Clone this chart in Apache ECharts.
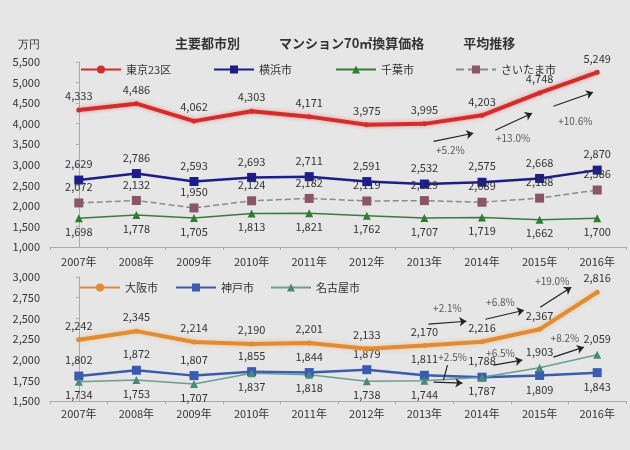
<!DOCTYPE html>
<html>
<head>
<meta charset="utf-8">
<script src="https://cdn.jsdelivr.net/npm/echarts@6/dist/echarts.min.js"></script>
<style>
html, body { margin: 0; padding: 0; background: #e6e6e6; }
#chart { width: 630px; height: 450px; }
</style>
</head>
<body>
<div id="chart"></div>
<script>
// 年
const years = ['2007年', '2008年', '2009年', '2010年', '2011年', '2012年', '2013年', '2014年', '2015年', '2016年'];

// 首都圏 (万円)
const tokyo = [4333, 4486, 4062, 4303, 4171, 3975, 3995, 4203, 4748, 5249];
const yokohama = [2629, 2786, 2593, 2693, 2711, 2591, 2532, 2575, 2668, 2870];
const chiba = [1698, 1778, 1705, 1813, 1821, 1762, 1707, 1719, 1662, 1700];
const saitama = [2072, 2132, 1950, 2124, 2182, 2119, 2129, 2089, 2188, 2386];

// 関西・中部 (万円)
const osaka = [2242, 2345, 2214, 2190, 2201, 2133, 2170, 2216, 2367, 2816];
const kobe = [1802, 1872, 1807, 1855, 1844, 1879, 1811, 1788, 1809, 1843];
const nagoya = [1734, 1753, 1707, 1837, 1818, 1738, 1744, 1787, 1903, 2059];

// 上昇率の注記 [文字, 年index, 値]
const topNotes = [['+5.2%', 6.45, 3353], ['+13.0%', 7.54, 3644], ['+10.6%', 8.62, 4058]];
const topArrows = [[6.16, 3571, 6.85, 3766], [7.23, 3839, 7.87, 4252], [8.24, 4423, 8.93, 4763]];
const bottomNotes = [['+2.1%', 6.40, 2622], ['+6.8%', 7.32, 2695], ['+19.0%', 8.22, 2948],
  ['+8.2%', 8.44, 2260], ['+6.5%', 7.32, 2079], ['+2.5%', 6.49, 2031]];
const bottomArrows = [[6.07, 2429, 6.73, 2465], [7.06, 2489, 7.73, 2598], [8.01, 2634, 8.55, 2876],
  [8.24, 2031, 8.77, 2151], [7.20, 1934, 7.70, 1995], [6.16, 1729, 6.66, 1717]];
const bottomLeader = [[6.40, 1934, 6.33, 1753]];

const FONT = '"Noto Sans CJK JP", "Noto Sans", sans-serif';
const fmt = (v) => Number(v).toLocaleString('en-US');

let myChart = echarts.init(document.getElementById('chart'));

// flip: 2015年以降はラベルの上下を入れ替える
let lineSeries = (name, data, opt) => {
  let pos = (i) => {
    let below = !!opt.below;
    if (opt.flipFrom != null && i >= opt.flipFrom) below = !below;
    return below ? 'bottom' : 'top';
  };
  return {
    name: name,
    type: 'line',
    data: data.map((v, i) => ({ value: v, label: { position: pos(i), distance: pos(i) === 'bottom' ? 4 : 6 } })),
    xAxisIndex: opt.grid,
    yAxisIndex: opt.grid,
    symbol: opt.symbol,
    symbolSize: opt.symbolSize,
    itemStyle: { color: opt.markColor || opt.color },
    lineStyle: Object.assign({ color: opt.color, width: opt.width, type: opt.dash ? 'dashed' : 'solid' }, opt.glow ? { shadowColor: opt.glow, shadowBlur: 4 } : {}),
    label: {
      show: true,
      color: '#333',
      fontSize: 11,
      fontFamily: FONT,
      formatter: (p) => fmt(p.value),
    },
    z: opt.z || 2,
  };
};

let arrowLines = (list, head) => list.map((a) => [
  { coord: [a[0], a[1]], symbol: 'none' },
  { coord: [a[2], a[3]], symbol: head ? 'arrow' : 'none' },
]);

let noteSeries = (grid, notes, arrows, leaders) => ({
  type: 'scatter',
  xAxisIndex: grid + 2,
  yAxisIndex: grid,
  symbolSize: 0,
  silent: true,
  data: notes.map((n) => [n[1], n[2], n[0]]),
  label: {
    show: true,
    position: 'inside',
    color: '#333',
    fontSize: 10,
    fontFamily: FONT,
    formatter: (p) => p.value[2],
  },
  markLine: {
    silent: true,
    symbolSize: 7,
    label: { show: false },
    lineStyle: { color: '#222', width: 1.2, type: 'solid' },
    data: arrowLines(arrows, true).concat(arrowLines(leaders, false)),
  },
  z: 5,
});

let legendAt = (name, left, top) => ({
  data: [name],
  left: left,
  top: top,
  itemWidth: 40,
  itemHeight: 10,
  itemGap: 0,
  textStyle: { fontSize: 11, color: '#333', fontFamily: FONT },
});

let axisY = (grid, min, max, interval) => ({
  type: 'value',
  gridIndex: grid,
  min: min,
  max: max,
  interval: interval,
  splitLine: { show: false },
  axisLine: { show: true, lineStyle: { color: '#aaa' } },
  axisTick: { show: true, length: 3, lineStyle: { color: '#aaa' } },
  axisLabel: { color: '#333', fontSize: 11, fontFamily: FONT, margin: 10, formatter: fmt },
});

let axisX = (grid, margin) => ({
  type: 'category',
  gridIndex: grid,
  data: years,
  boundaryGap: true,
  axisLine: { show: true, lineStyle: { color: '#aaa' } },
  axisTick: { show: true, length: 3, lineStyle: { color: '#aaa' } },
  axisLabel: { color: '#333', fontSize: 11, fontFamily: FONT, margin: margin },
});

let noteAxis = (grid) => ({
  type: 'value',
  gridIndex: grid,
  min: -0.5,
  max: 9.5,
  show: false,
});

myChart.setOption({
  backgroundColor: '#e6e6e6',
  animation: false,
  title: {
    text: '主要都市別　　　マンション70㎡換算価格　　　平均推移',
    left: 170,
    top: 32,
    textStyle: { fontSize: 13, fontWeight: 'bold', color: '#333', fontFamily: FONT },
  },
  graphic: [{
    type: 'text',
    left: 18,
    top: 39,
    style: { text: '万円', fontSize: 11, fill: '#333', font: '11px ' + FONT },
  }],
  legend: [
    legendAt('東京23区', 75, 59),
    legendAt('横浜市', 208, 59),
    legendAt('千葉市', 330, 59),
    legendAt('さいたま市', 450, 59),
    legendAt('大阪市', 74, 277),
    legendAt('神戸市', 170, 277),
    legendAt('名古屋市', 265, 277),
  ],
  grid: [
    { left: 50, right: 4, top: 62, height: 185 },
    { left: 50, right: 4, top: 277, height: 124 },
  ],
  xAxis: [axisX(0, 9), axisX(1, 7), noteAxis(0), noteAxis(1)],
  yAxis: [axisY(0, 1000, 5500, 500), axisY(1, 1500, 3000, 250)],
  series: [
    lineSeries('東京23区', tokyo, { grid: 0, color: '#d42b2b', width: 4, symbol: 'circle', symbolSize: 5, glow: 'rgba(240,90,90,0.6)', z: 4 }),
    lineSeries('横浜市', yokohama, { grid: 0, color: '#1c1c8a', width: 2.5, symbol: 'rect', symbolSize: 9 }),
    lineSeries('千葉市', chiba, { grid: 0, color: '#3d7a40', markColor: '#2e7d32', width: 1.5, symbol: 'triangle', symbolSize: 8, below: true }),
    lineSeries('さいたま市', saitama, { grid: 0, color: '#8a8a8a', markColor: '#8a5566', width: 1.5, symbol: 'rect', symbolSize: 9, dash: true }),
    lineSeries('大阪市', osaka, { grid: 1, color: '#e08c35', width: 4, symbol: 'circle', symbolSize: 5, glow: 'rgba(240,170,90,0.6)', z: 4 }),
    lineSeries('神戸市', kobe, { grid: 1, color: '#3a5cb0', width: 2.5, symbol: 'rect', symbolSize: 9, flipFrom: 8 }),
    lineSeries('名古屋市', nagoya, { grid: 1, color: '#6a9e92', markColor: '#4a8a7a', width: 1.5, symbol: 'triangle', symbolSize: 8, below: true, flipFrom: 8 }),
    noteSeries(0, topNotes, topArrows, []),
    noteSeries(1, bottomNotes, bottomArrows, bottomLeader),
  ],
});
</script>
</body>
</html>
